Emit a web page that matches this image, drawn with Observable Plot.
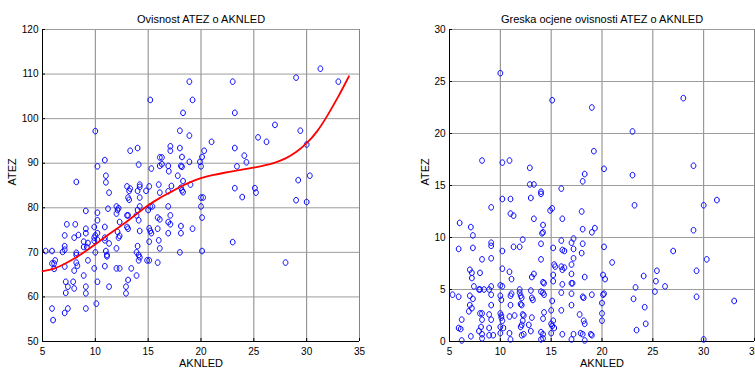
<!DOCTYPE html>
<html><head><meta charset="utf-8">
<script src="https://cdn.jsdelivr.net/npm/d3@7"></script>
<script src="https://cdn.jsdelivr.net/npm/@observablehq/plot@0.6"></script>
<style>
body{margin:0;background:#fff;}
#wrap{position:relative;width:755px;height:371px;overflow:hidden;background:#fff;}
#wrap>div{position:absolute;top:0;}
</style></head><body>
<div id="wrap"><div id="a" style="left:0"></div><div id="b" style="left:377px"></div></div>
<script>
// ---- data ----
const xTicks = [5,10,15,20,25,30,35];
const xDomain = [5,35];
const leftYTicks = [50,60,70,80,90,100,110,120];
const leftYDomain = [50,120];
const rightYTicks = [0,5,10,15,20,25,30];
const rightYDomain = [0,30];
const leftTitle = "Ovisnost ATEZ o AKNLED";
const rightTitle = "Greska ocjene ovisnosti ATEZ o AKNLED";
const xLabel = "AKNLED";
const yLabel = "ATEZ";

// left scatter: AKNLED (x), ATEZ (y)
const leftX = [31.3,29.0,33.0,18.9,23.0,15.2,19.2,23.2,18.3,10.0,18.0,29.4,27.0,25.4,18.9,26.2,21.0,30.0,17.1,17.1,14.0,13.3,18.0,23.2,24.1,10.9,16.1,16.3,18.2,20.3,20.1,19.9,18.9,24.3,10.2,14.1,15.3,16.1,16.3,16.9,16.95,18.1,18.2,20.0,23.4,11.0,11.0,17.8,30.3,29.2,8.2,18.3,19.0,16.0,14.2,14.2,15.1,13.0,13.3,17.2,18.1,18.3,18.2,23.2,25.1,25.2,11.3,13.2,14.8,14.0,16.1,16.9,13.1,13.2,14.2,20.0,20.2,23.9,29.0,30.0,20.0,12.0,12.1,12.2,11.2,15.2,15.4,16.9,14.2,14.0,15.0,9.1,10.2,13.0,13.1,12.0,13.9,17.1,15.9,16.1,20.1,7.3,8.1,10.2,14.1,12.3,16.9,17.1,18.1,15.9,19.2,9.1,10.9,9.9,13.0,13.1,15.1,15.2,14.2,8.4,8.0,7.1,9.1,10.2,10.0,9.9,10.2,10.9,12.1,12.2,12.3,15.3,16.9,18.1,9.3,8.9,8.9,7.1,7.1,6.9,9.9,10.9,11.3,15.1,16.0,23.0,12.0,14.0,13.9,16.1,11.0,11.1,11.1,5.3,5.9,8.2,8.2,9.2,10.0,18.0,20.1,14.1,14.2,6.2,6.1,5.9,8.2,8.3,7.1,9.3,14.1,14.9,15.1,15.9,28.0,8.0,6.1,9.9,10.9,12.0,12.3,13.4,8.9,13.9,7.2,7.9,10.2,13.1,7.4,8.0,9.1,11.3,12.9,7.2,9.1,12.9,10.1,5.9,7.4,9.1,7.1,6.0];
const leftY = [111.2,109.2,108.3,108.3,108.3,104.2,104.2,101.3,101.3,97.2,97.3,97.3,98.6,95.8,96.2,94.8,94.8,94.2,93.8,92.8,93.4,92.8,93.4,93.4,91.7,90.7,91.3,91.3,91.4,92.8,91.4,90.3,90.3,90.2,89.3,89.7,88.8,89.4,89.8,89.4,88.2,89.4,89.2,89.3,89.3,87.2,85.7,87.2,87.2,86.2,85.8,86.0,85.2,85.2,85.2,84.7,84.8,84.8,84.3,84.9,84.5,83.5,83.9,84.4,84.4,83.4,83.4,83.8,83.8,83.8,83.4,83.7,82.3,81.8,82.3,82.3,82.3,82.4,81.7,81.3,80.3,80.3,79.5,79.9,79.8,80.3,80.3,80.3,80.3,79.5,79.5,79.3,78.9,78.3,78.3,78.7,78.3,78.3,77.8,77.4,77.8,76.3,76.3,77.2,77.2,76.8,76.8,76.3,75.9,75.3,75.3,75.3,75.7,75.7,75.7,75.3,75.4,74.8,74.8,73.9,73.3,73.8,74.3,74.3,73.8,73.3,72.8,73.3,74.6,73.3,73.7,74.3,74.3,74.3,72.1,72.4,71.2,71.4,70.6,70.1,72.6,72.7,72.0,72.4,72.7,72.3,70.9,71.4,70.0,70.9,70.3,69.4,69.1,70.3,70.3,69.9,69.4,71.2,70.0,70.0,70.3,69.4,68.9,68.2,67.5,67.5,67.7,67.0,66.8,68.2,68.2,68.2,68.2,67.7,67.7,65.9,66.3,66.4,66.9,66.4,66.4,66.4,64.8,64.8,63.4,63.4,63.4,63.8,62.3,61.9,62.3,62.3,62.3,60.9,60.8,60.8,58.5,57.4,57.4,57.4,56.4,54.8];

// red fitted curve
const fitX = [5,6,7.5,8,9,10,11,12.5,13,14,15,16,17.5,18,19,20,21,22.5,23,24,25,26,27,28,29,30,31,32,33,34];
const fitY = [65.8,66.1,67.9,68.6,70.1,71.8,73.6,76.1,76.9,78.8,80.6,82.1,84.0,84.7,85.8,86.7,87.3,88.0,88.2,88.6,89.0,89.5,90.1,91.0,92.4,94.4,97.0,100.8,104.9,109.5];

// right scatter: AKNLED (x), error (y)
const rightX = [10.0,15.1,28.0,19.0,23.0,19.2,8.2,10.2,10.9,12.9,20.2,29.0,18.3,23.0,18.1,12.9,13.3,16.0,14.0,14.0,13.0,10.2,11.0,23.2,30.0,31.3,9.1,15.1,14.9,18.0,11.0,11.3,13.3,16.1,6.0,7.1,14.2,14.2,14.1,18.1,19.3,29.0,19.0,7.3,12.2,17.2,17.0,14.0,18.1,16.0,9.1,9.1,11.9,11.3,20.2,5.9,7.3,15.2,16.1,16.3,17.2,10.2,27.0,18.0,21.0,9.1,8.2,14.0,17.2,30.3,15.3,15.4,16.0,16.3,17.0,24.1,25.4,29.3,7.0,7.2,8.0,10.2,10.9,17.0,16.1,15.2,20.1,13.3,13.1,7.2,11.1,18.3,20.3,15.2,25.3,14.2,14.3,17.1,17.0,26.2,16.1,7.4,9.1,10.0,10.2,7.9,8.0,8.4,8.9,11.9,13.0,23.3,11.9,14.0,14.2,5.3,5.9,7.0,7.3,9.1,10.0,10.1,11.1,11.0,12.0,12.1,13.1,13.2,14.3,16.0,17.0,18.1,18.2,19.0,20.1,20.2,25.2,29.3,23.1,33.0,7.0,7.2,6.9,9.1,11.0,12.0,12.1,15.1,15.0,16.0,17.0,20.0,24.2,8.0,8.2,8.9,10.0,10.1,11.4,10.9,12.2,12.3,13.1,14.3,14.2,17.8,20.0,6.2,8.2,9.1,10.1,10.2,15.2,18.2,20.0,18.3,24.3,12.8,12.1,15.0,15.1,7.9,8.1,5.9,6.1,8.9,10.0,10.3,12.0,13.0,15.3,23.4,8.2,8.9,9.3,10.0,10.9,12.1,12.3,14.0,14.2,15.0,16.1,17.2,17.9,18.1,18.9,19.0,7.1,6.2,8.2,11.0,14.0,14.2,17.0,18.3,30.0,12.2];
const rightY = [25.8,23.2,23.4,22.5,20.2,18.3,17.4,17.2,17.4,16.7,16.6,16.9,16.1,16.0,15.4,15.1,15.1,14.7,14.4,14.2,13.8,13.7,13.7,13.1,13.1,13.6,12.9,12.8,12.6,12.5,12.3,12.1,11.8,11.8,11.4,11.0,11.2,10.5,10.4,10.8,10.9,10.7,10.5,10.2,9.8,9.9,9.5,9.4,9.4,9.7,9.5,9.2,9.1,9.1,9.1,8.9,9.0,9.0,8.8,8.7,8.9,8.7,8.7,8.5,7.6,8.0,7.9,7.9,8.0,7.9,7.4,7.2,7.2,7.1,7.4,6.3,6.8,6.8,6.9,6.6,6.6,7.0,6.7,6.5,6.9,6.4,6.4,6.5,6.2,6.1,6.0,6.2,6.0,5.8,5.8,5.7,5.6,5.6,5.6,5.3,5.5,5.3,5.3,5.4,5.3,5.0,5.0,5.0,5.0,5.0,4.9,5.2,4.7,4.8,4.7,4.5,4.3,4.4,4.1,4.5,4.4,4.0,4.6,4.4,4.4,4.2,4.2,4.0,4.5,4.7,4.6,4.3,4.2,4.5,4.5,4.6,4.8,4.3,4.1,3.9,3.5,3.2,2.9,3.5,3.5,3.6,3.5,3.9,3.0,3.0,3.5,3.7,3.3,2.7,2.7,2.6,2.7,2.5,2.5,2.4,2.6,2.5,2.3,2.8,2.2,2.6,2.7,2.1,2.1,2.1,2.3,2.0,2.0,2.0,2.0,1.7,1.7,1.6,1.6,1.7,1.5,1.0,1.4,1.3,1.2,1.3,1.4,1.3,1.4,1.0,1.3,1.1,0.7,0.6,0.6,0.8,0.8,0.6,0.7,0.9,0.7,0.8,0.7,0.7,0.8,0.7,0.7,0.6,0.5,0.1,0.3,0.2,0.2,0.3,0.2,0.1,0.2,2.0];

// ---- drawing ----
const narrow = "'Liberation Sans Narrow','Liberation Sans',Arial,sans-serif";
const regular = "'Liberation Sans',Arial,sans-serif";

// slightly tall ellipse marker (the reference image is horizontally squeezed)
const ellipse = {
  draw(context, size) {
    const r = Math.sqrt(size / Math.PI), rx = r * 0.85, ry = r, k = 0.5523;
    context.moveTo(rx, 0);
    context.bezierCurveTo(rx, k * ry, k * rx, ry, 0, ry);
    context.bezierCurveTo(-k * rx, ry, -rx, k * ry, -rx, 0);
    context.bezierCurveTo(-rx, -k * ry, -k * rx, -ry, 0, -ry);
    context.bezierCurveTo(k * rx, -ry, rx, -k * ry, rx, 0);
    context.closePath();
  }
};

function panel({xs, ys, fx, fy, yDomain, yTicks, title, width, ml, mr, ylabDx}) {
  const H = 371, mt = 29, mb = 30;
  const pw = width - ml - mr, ph = H - mt - mb;
  const pts = xs.map((x, i) => ({x, y: ys[i]}));
  const marks = [
    Plot.gridX(xTicks, {stroke: "#858585", strokeOpacity: 1}),
    Plot.gridY(yTicks, {stroke: "#9c9c9c", strokeOpacity: 1}),
    Plot.tickX(xTicks, {x: d => d, insetTop: ph - 3, stroke: "black"}),
    Plot.tickY(yTicks, {y: d => d, insetRight: pw - 3, stroke: "black"}),
    Plot.ruleX([xDomain[0]], {stroke: "black"}),
    Plot.ruleY([yDomain[0]], {stroke: "black"}),
    Plot.axisX(xTicks, {tickSize: 0, tickPadding: 6, label: null, fontSize: 10}),
    Plot.axisY(yTicks, {tickSize: 0, tickPadding: 4, label: null, fontSize: 10}),
    Plot.dot(pts, {x: "x", y: "y", r: 2.8, symbol: ellipse, stroke: "#0000ff", strokeWidth: 1, fill: "none"})
  ];
  if (fx) {
    const c = fx.map((x, i) => ({x, y: fy[i]}));
    marks.push(Plot.line(c, {x: "x", y: "y", stroke: "#ff0000", strokeWidth: 1.8, curve: "basis"}));
  }
  marks.push(
    Plot.text([title], {text: d => d, frameAnchor: "top", dy: -14, fontSize: 11, fill: "black"}),
    Plot.text([xLabel], {text: d => d, frameAnchor: "bottom", dy: 25, fontSize: 11, fill: "black"}),
    Plot.text([yLabel], {text: d => d, frameAnchor: "left", dx: ylabDx, rotate: -90, fontSize: 11, fontFamily: regular, fill: "black"})
  );
  return Plot.plot({
    width, height: H,
    marginLeft: ml, marginRight: mr, marginTop: mt, marginBottom: mb,
    x: {domain: xDomain},
    y: {domain: yDomain},
    style: {fontFamily: narrow, fontSize: "10px", background: "white", color: "black"},
    marks
  });
}

document.getElementById("a").appendChild(panel({
  xs: leftX, ys: leftY, fx: fitX, fy: fitY,
  yDomain: leftYDomain, yTicks: leftYTicks, title: leftTitle,
  width: 377, ml: 42, mr: 18, ylabDx: -30
}));
document.getElementById("b").appendChild(panel({
  xs: rightX, ys: rightY,
  yDomain: rightYDomain, yTicks: rightYTicks, title: rightTitle,
  width: 378, ml: 72, mr: 1, ylabDx: -24
}));
</script>
</body></html>
